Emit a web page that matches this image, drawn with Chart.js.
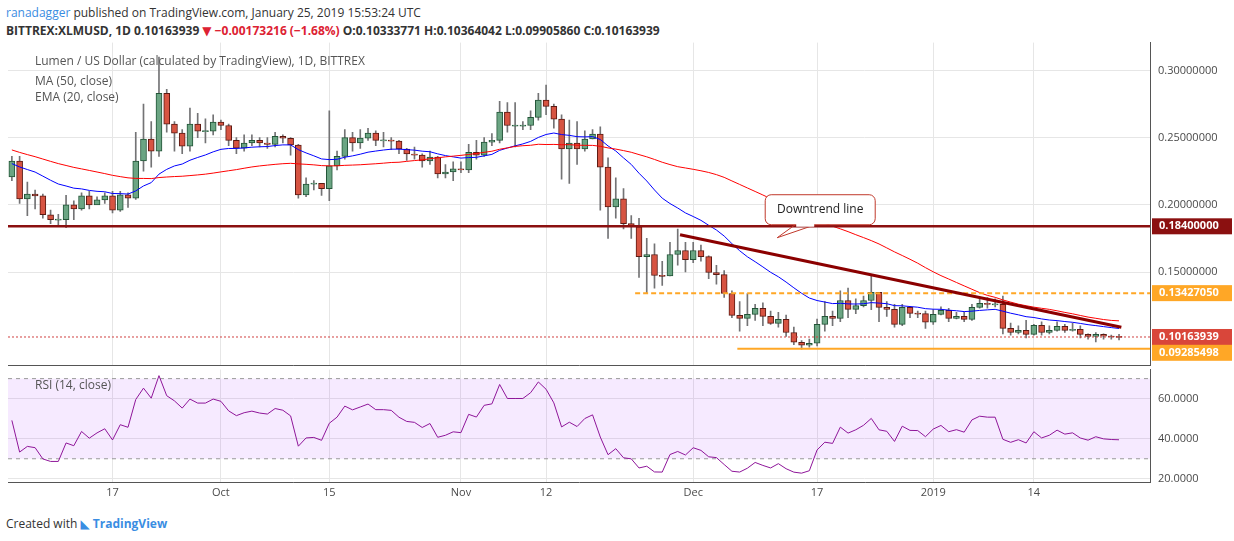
<!DOCTYPE html>
<html>
<head>
<meta charset="utf-8">
<script src="https://cdn.jsdelivr.net/npm/chart.js@4.4.1/dist/chart.umd.min.js"></script>
<style>
  body { margin: 0; width: 1234px; height: 541px; background: #fff; font-family: "Open Sans", "DejaVu Sans", sans-serif; position: relative; overflow: hidden; }
  .hdr1 { position: absolute; left: 6px; top: 4px; font-size: 12px; color: #333; }
  .hdr1 b { color: #3a8de2; font-weight: normal; }
  .hdr2 { position: absolute; left: 6px; top: 22px; font-size: 12px; color: #333; font-weight: bold; }
  .dn { color: #d23; }
  #wrapMain { position: absolute; left: 8px; top: 28px; width: 1226px; height: 352px; }
  #wrapRsi { position: absolute; left: 8px; top: 355px; width: 1226px; height: 147px; }
  .lbl { position: absolute; left: 35px; font-size: 12px; color: #555; }
  .foot { position: absolute; left: 6px; top: 515px; font-size: 12px; color: #333; }
  .foot span { color: #3a8de2; font-weight: bold; }
</style>
</head>
<body>
<div class="hdr1"><b>ranadagger</b> published on TradingView.com, January 25, 2019 15:53:24 UTC</div>
<div class="hdr2">BITTREX:XLMUSD, 1D 0.10163939 <span class="dn">▼ −0.00173216 (−1.68%)</span> O:0.10333771 H:0.10364042 L:0.09905860 C:0.10163939</div>
<div id="wrapMain"><canvas id="main"></canvas></div>
<div id="wrapRsi"><canvas id="rsi"></canvas></div>
<div class="lbl" style="top:52px">Lumen / US Dollar (calculated by TradingView), 1D, BITTREX</div>
<div class="lbl" style="top:72px">MA (50, close)</div>
<div class="lbl" style="top:88px">EMA (20, close)</div>
<div class="lbl" style="top:376px">RSI (14, close)</div>
<div class="foot">Created with <span style="color:#3a8de2">◣</span> <span>TradingView</span></div>
<script>
// daily candles, Sep 4 2018 .. Jan 25 2019
const closes = [0.2326,0.2044,0.208,0.2066,0.1926,0.189,0.189,0.200,0.197,0.2066,
0.200,0.2037,0.2066,0.196,0.2074,0.205,0.2326,0.249,0.240,0.283,
0.260,0.2533,0.2437,0.260,0.2548,0.2548,0.2615,0.259,0.248,0.2422,
0.246,0.248,0.246,0.245,0.251,0.2495,0.2445,0.2074,0.2155,0.216,
0.212,0.229,0.236,0.250,0.246,0.2496,0.2533,0.248,0.248,0.2474,
0.2415,0.2378,0.237,0.2326,0.2355,0.223,0.2244,0.2267,0.226,0.239,
0.237,0.2467,0.248,0.269,0.259,0.259,0.259,0.265,0.278,0.2733,
0.2637,0.2415,0.246,0.2415,0.249,0.2526,0.228,0.1985,0.2044,0.186,
0.1837,0.1614,0.163,0.1474,0.147,0.163,0.166,0.1592,0.166,0.1614,
0.1496,0.148,0.134,0.1177,0.1155,0.1185,0.1229,0.117,0.1118,0.1148,
0.105,0.0977,0.0955,0.097,0.111,0.117,0.1155,0.1288,0.1222,0.125,
0.1288,0.1348,0.1237,0.1222,0.111,0.1237,0.1192,0.119,0.1126,0.1185,
0.1214,0.1155,0.117,0.1148,0.1237,0.1266,0.1259,0.1259,0.108,0.105,
0.1066,0.1036,0.1103,0.105,0.1066,0.1096,0.1066,0.1073,0.1036,0.102,
0.1036,0.1022,0.1018,0.10164];
const highs = [0.236,0.236,0.217,0.211,0.208,0.196,0.193,0.207,0.203,0.209,
0.210,0.206,0.209,0.210,0.210,0.209,0.254,0.275,0.262,0.31,
0.286,0.262,0.256,0.272,0.268,0.264,0.267,0.263,0.260,0.250,
0.252,0.252,0.250,0.250,0.254,0.252,0.250,0.245,0.220,0.218,
0.216,0.270,0.240,0.256,0.254,0.256,0.257,0.255,0.254,0.250,
0.248,0.242,0.243,0.238,0.240,0.236,0.230,0.232,0.232,0.245,
0.248,0.250,0.253,0.277,0.276,0.276,0.262,0.270,0.283,0.289,
0.275,0.267,0.263,0.262,0.255,0.256,0.258,0.235,0.220,0.212,
0.192,0.190,0.175,0.171,0.158,0.172,0.182,0.172,0.172,0.170,
0.162,0.155,0.151,0.136,0.128,0.134,0.126,0.127,0.121,0.120,
0.118,0.109,0.099,0.100,0.115,0.128,0.121,0.136,0.138,0.130,
0.132,0.148,0.134,0.128,0.126,0.126,0.124,0.121,0.121,0.122,
0.124,0.123,0.120,0.120,0.126,0.130,0.131,0.130,0.132,0.112,
0.110,0.114,0.111,0.113,0.110,0.113,0.111,0.112,0.110,0.104,
0.105,0.104,0.103,0.1036];
const lows = [0.218,0.201,0.192,0.197,0.190,0.186,0.185,0.183,0.189,0.196,
0.197,0.201,0.201,0.194,0.195,0.198,0.204,0.225,0.228,0.236,
0.254,0.240,0.238,0.240,0.250,0.246,0.252,0.256,0.244,0.238,
0.240,0.244,0.243,0.242,0.243,0.246,0.237,0.205,0.206,0.211,
0.207,0.203,0.226,0.234,0.240,0.242,0.248,0.244,0.243,0.241,
0.238,0.233,0.234,0.228,0.230,0.220,0.220,0.218,0.224,0.224,
0.234,0.236,0.244,0.246,0.254,0.243,0.256,0.256,0.263,0.267,
0.257,0.219,0.216,0.230,0.240,0.249,0.196,0.175,0.190,0.182,
0.175,0.146,0.134,0.138,0.140,0.147,0.155,0.150,0.157,0.158,
0.145,0.141,0.131,0.116,0.106,0.110,0.114,0.110,0.111,0.109,
0.102,0.096,0.0925,0.094,0.095,0.106,0.110,0.113,0.116,0.119,
0.124,0.122,0.113,0.117,0.109,0.110,0.116,0.116,0.108,0.111,
0.118,0.113,0.115,0.113,0.114,0.123,0.123,0.124,0.104,0.103,
0.104,0.101,0.103,0.103,0.104,0.106,0.105,0.106,0.101,0.100,
0.098,0.100,0.100,0.0995];
const firstOpen = 0.2207;
// August closes, only used to warm up MA / EMA / RSI
const priorCloses = [0.300,0.296,0.290,0.284,0.280,0.276,0.272,0.270,0.268,0.262,
0.258,0.262,0.266,0.260,0.256,0.250,0.254,0.250,0.246,0.244,
0.240,0.236,0.232,0.236,0.230,0.226,0.222,0.215,0.205,0.200,
0.195,0.200,0.208,0.215,0.222,0.226,0.230,0.228,0.232,0.236,
0.240,0.238,0.235,0.232,0.236,0.238,0.234,0.230,0.226,0.222];
const tickIdx = [13, 27, 41, 58, 69, 88, 104, 119, 132];
const tickText = ['17', 'Oct', '15', 'Nov', '12', 'Dec', '17', '2019', '14'];
const levels = { resist: 0.184, mid: 0.13427050, last: 0.10163939, support: 0.09285498 };
const trend = [[86.3, 0.1777], [143.3, 0.1089]];

const opens = closes.map((c, i) => i === 0 ? firstOpen : closes[i - 1]);
const all = priorCloses.concat(closes);
const P = priorCloses.length;
const ma = closes.map((c, i) => { let s = 0; for (let k = P + i - 49; k <= P + i; k++) s += all[k]; return s / 50; });
let e = all.slice(0, 20).reduce((a, b) => a + b) / 20;
const emaAll = all.map((c, i) => { if (i >= 20) e = c * 2 / 21 + e * 19 / 21; return e; });
const ema = closes.map((c, i) => emaAll[P + i]);
let ag = 0, al = 0;
for (let k = 1; k <= 14; k++) { const d = all[k] - all[k - 1]; if (d > 0) ag += d; else al -= d; }
ag /= 14; al /= 14;
const rsiAll = all.map((c, i) => {
  if (i > 14) { const d = c - all[i - 1]; ag = (ag * 13 + Math.max(d, 0)) / 14; al = (al * 13 + Math.max(-d, 0)) / 14; }
  return 100 - 100 / (1 + ag / al);
});
const rsi = closes.map((c, i) => rsiAll[P + i]);

const up = closes.map((c, i) => c >= opens[i]);
const bodies = closes.map((c, i) => {
  let a = opens[i], b = c;
  if (Math.abs(a - b) < 0.0008) { const m = (a + b) / 2; a = m - 0.0004; b = m + 0.0004; }
  return { x: i, y: [a, b] };
});
const wicks = closes.map((c, i) => ({ x: i, y: [lows[i], highs[i]] }));

const xScale = (display) => ({
  type: 'linear', min: -0.5, max: 147, offset: false,
  afterBuildTicks: s => { s.ticks = tickIdx.map(v => ({ value: v })); },
  afterFit: s => { if (!display) s.height = 0; },
  ticks: { display: display, color: '#4a4a4a', font: { size: 11, family: 'Open Sans' },
    callback: v => { const j = tickIdx.indexOf(v); return j >= 0 ? tickText[j] : ''; },
    maxRotation: 0, autoSkip: false },
  grid: { color: '#e6e6e6', drawTicks: false, offset: false },
  border: { color: '#555' }
});
const fixW = s => { s.width = 84; };

const overlay = {
  id: 'overlay',
  afterDatasetsDraw(chart) {
    const { ctx, chartArea: a, scales: { x, y } } = chart;
    ctx.save();
    const Y = v => y.getPixelForValue(v);
    // horizontal levels
    ctx.lineWidth = 2.5; ctx.strokeStyle = '#8b1010';
    ctx.beginPath(); ctx.moveTo(a.left, Y(levels.resist)); ctx.lineTo(a.right, Y(levels.resist)); ctx.stroke();
    ctx.lineWidth = 2; ctx.strokeStyle = '#ffa726'; ctx.setLineDash([5, 3]);
    ctx.beginPath(); ctx.moveTo(x.getPixelForValue(80.5), Y(levels.mid)); ctx.lineTo(a.right, Y(levels.mid)); ctx.stroke();
    ctx.setLineDash([]);
    ctx.beginPath(); ctx.moveTo(x.getPixelForValue(93.7), Y(levels.support)); ctx.lineTo(a.right, Y(levels.support)); ctx.stroke();
    ctx.lineWidth = 1; ctx.strokeStyle = '#d04040'; ctx.setLineDash([2, 2]);
    ctx.beginPath(); ctx.moveTo(a.left, Y(levels.last)); ctx.lineTo(a.right, Y(levels.last)); ctx.stroke();
    ctx.setLineDash([]);
    // downtrend line
    ctx.lineWidth = 3; ctx.strokeStyle = '#8b0000';
    ctx.beginPath(); ctx.moveTo(x.getPixelForValue(trend[0][0]), Y(trend[0][1]));
    ctx.lineTo(x.getPixelForValue(trend[1][0]), Y(trend[1][1])); ctx.stroke();
    // callout
    const bx = x.getPixelForValue(97.3), by = Y(0.2075);
    ctx.fillStyle = '#fff'; ctx.strokeStyle = '#c0392b'; ctx.lineWidth = 1;
    ctx.beginPath();
    ctx.moveTo(bx + 30, by + 30); ctx.lineTo(bx + 12, by + 43); ctx.lineTo(bx + 50, by + 30);
    ctx.stroke();
    ctx.beginPath(); ctx.roundRect(bx, by, 110, 30, 6); ctx.fill(); ctx.stroke();
    ctx.fillStyle = '#fff'; ctx.fillRect(bx + 31, by + 28, 18, 4);
    ctx.fillStyle = '#222'; ctx.font = '12px "Open Sans"'; ctx.textAlign = 'center'; ctx.textBaseline = 'middle';
    ctx.fillText('Downtrend line', bx + 55, by + 15);
    // price labels in axis
    ctx.font = 'bold 11px "Open Sans"'; ctx.textAlign = 'left';
    [[levels.resist, '#8b1010', '0.18400000'], [levels.mid, '#ffa726', '0.13427050'],
     [levels.last, '#d9463a', '0.10163939'], [levels.support, '#ffa726', '0.09285498']].forEach(([v, c, t]) => {
      const py = Y(v) + (v === levels.support ? 4 : 0);
      ctx.fillStyle = c; ctx.fillRect(a.right + 2, py - 8, 80, 16);
      ctx.fillStyle = '#fff'; ctx.fillText(t, a.right + 9, py);
    });
    ctx.restore();
  }
};

new Chart(document.getElementById('main'), {
  type: 'bar',
  data: {
    datasets: [
      { type: 'bar', data: wicks, backgroundColor: '#737375', barThickness: 1, grouped: false, order: 3 },
      { type: 'bar', data: bodies, backgroundColor: up.map(u => u ? '#6ba583' : '#d75442'),
        borderColor: up.map(u => u ? '#225437' : '#5b1a13'), borderWidth: 1, borderSkipped: false,
        barThickness: 6, grouped: false, order: 2 },
      { type: 'line', data: ma.map((v, i) => ({ x: i, y: v })), borderColor: '#ff0000', borderWidth: 1, pointRadius: 0, order: 1 },
      { type: 'line', data: ema.map((v, i) => ({ x: i, y: v })), borderColor: '#0000ff', borderWidth: 1, pointRadius: 0, order: 1 }
    ]
  },
  options: {
    responsive: true, maintainAspectRatio: false, animation: false,
    layout: { padding: 0 },
    plugins: { legend: { display: false }, tooltip: { enabled: false } },
    scales: {
      x: xScale(false),
      y: { position: 'right', min: 0.0805, max: 0.3207, afterFit: fixW,
        afterBuildTicks: s => { s.ticks = [0.15, 0.20, 0.25, 0.30].map(v => ({ value: v })); },
        ticks: { color: '#4a4a4a', font: { size: 11, family: 'Open Sans' }, padding: 8, callback: v => v.toFixed(8) },
        grid: { color: '#e6e6e6', drawTicks: false }, border: { color: '#555' } }
    }
  },
  plugins: [overlay]
});

const rsiBand = {
  id: 'rsiBand',
  beforeDatasetsDraw(chart) {
    const { ctx, chartArea: a, scales: { y } } = chart;
    ctx.save();
    ctx.fillStyle = 'rgba(153, 21, 255, 0.09)';
    ctx.fillRect(a.left, y.getPixelForValue(70), a.right - a.left, y.getPixelForValue(30) - y.getPixelForValue(70));
    ctx.strokeStyle = '#999'; ctx.setLineDash([4, 4]); ctx.lineWidth = 1;
    [70, 30].forEach(v => { ctx.beginPath(); ctx.moveTo(a.left, y.getPixelForValue(v)); ctx.lineTo(a.right, y.getPixelForValue(v)); ctx.stroke(); });
    ctx.restore();
  }
};

new Chart(document.getElementById('rsi'), {
  type: 'line',
  data: { datasets: [{ data: rsi.map((v, i) => ({ x: i, y: v })), borderColor: '#8e1599', borderWidth: 1, pointRadius: 0 }] },
  options: {
    responsive: true, maintainAspectRatio: false, animation: false,
    layout: { padding: { top: 3 } },
    plugins: { legend: { display: false }, tooltip: { enabled: false } },
    scales: {
      x: xScale(true),
      y: { position: 'right', min: 18, max: 74.5, afterFit: fixW,
        afterBuildTicks: s => { s.ticks = [20, 40, 60].map(v => ({ value: v })); },
        ticks: { color: '#4a4a4a', font: { size: 11, family: 'Open Sans' }, padding: 8, callback: v => v.toFixed(4) },
        grid: { color: '#e6e6e6', drawTicks: false }, border: { color: '#555' } }
    }
  },
  plugins: [rsiBand]
});
</script>
</body>
</html>
